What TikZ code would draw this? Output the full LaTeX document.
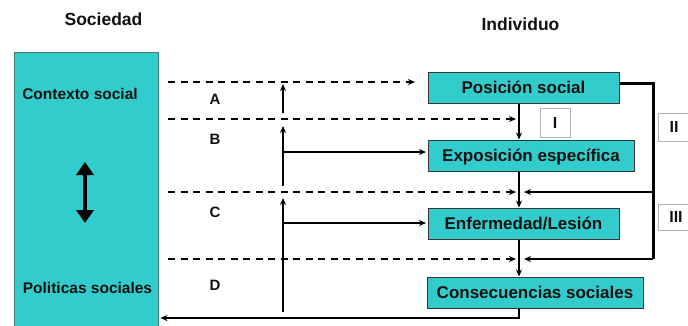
\documentclass[tikz,border=0pt]{standalone}
\usepackage{fontspec}
\setmainfont{Liberation Sans}
\usetikzlibrary{arrows.meta}
\definecolor{tealbox}{HTML}{33CCCC}
\definecolor{ink}{HTML}{111111}
\definecolor{socedge}{HTML}{3C7E7E}
\begin{document}
\begin{tikzpicture}[x=1pt,y=-1pt,
  box/.style={draw=ink!85, line width=1pt, fill=tealbox, inner sep=0pt,
    text height=12.2pt, text depth=0pt, minimum height=31pt,
    font=\fontsize{17}{20}\selectfont\bfseries, text=ink},
  lbl/.style={font=\fontsize{15}{18}\selectfont\bfseries, anchor=base, text=ink, inner sep=0pt},
  head/.style={font=\fontsize{17.5}{20}\selectfont\bfseries, anchor=base, text=ink, inner sep=0pt},
  side/.style={font=\fontsize{15.5}{18}\selectfont\bfseries, anchor=base, text=ink, inner sep=0pt},
  tag/.style={draw=gray!60, fill=white, line width=0.8pt, inner sep=0pt,
    text height=11.5pt, text depth=0pt, font=\fontsize{16}{18}\selectfont\bfseries, text=ink},
  dashline/.style={line width=2pt, dash pattern=on 7pt off 5.5pt, -{Stealth[length=7pt,width=6pt]}},
  arr/.style={line width=2pt, -{Stealth[length=7pt,width=6pt]}},
  loopline/.style={line width=3pt, line join=miter},
]
\useasboundingbox (0,0) rectangle (688,325);

% Society block
\node[draw=socedge, line width=0.9pt, fill=tealbox, minimum width=144pt, minimum height=290pt,
  anchor=north west, inner sep=0pt] (soc) at (14,52) {};
\node[head] (tsoc) at (103.5,25) {Sociedad};
\node[head] (tind) at (520.5,30) {Individuo};
\node[side] (ctx) at (80,99) {Contexto social};
\node[side] (pol) at (87.5,293) {Politicas sociales};

% double arrow
\coordinate (dbl1) at (85,162);
\coordinate (dbl2) at (85,223);
\draw[line width=4pt, {Triangle[length=13pt,width=17pt]}-{Triangle[length=13pt,width=17pt]}] (dbl1) -- (dbl2);

% Individual boxes
\node[box, minimum width=191pt] (pos) at (523.5,87.5) {Posición social};
\node[box, minimum width=206pt] (expo) at (531,155.5) {Exposición específica};
\node[box, minimum width=191pt] (enf) at (523.5,223.5) {Enfermedad/Lesión};
\node[box, minimum width=216pt] (cons) at (535,292.5) {Consecuencias sociales};

% tags
\node[tag, minimum width=30pt, minimum height=29pt] (t1) at (555,122.5) {I};
\node[tag, minimum width=32pt, minimum height=28pt] (t2) at (674,127) {II};
\node[tag, minimum width=36pt, minimum height=26pt] (t3) at (676,217) {III};

% labels
\node[lbl] (la) at (215,104) {A};
\node[lbl] (lb) at (215,144) {B};
\node[lbl] (lc) at (215,217) {C};
\node[lbl] (ld) at (215,290) {D};

% spine
\coordinate (sp) at (519,0);
\draw[arr] (pos.south -| sp) -- (expo.north -| sp);
\draw[arr] (expo.south -| sp) -- (enf.north -| sp);
\draw[arr] (enf.south -| sp) -- (cons.north -| sp);

% dashed lines
\coordinate (a1) at (168,82);
\coordinate (aE) at (415,82);
\coordinate (b1) at (168,119);
\coordinate (c1) at (168,192);
\coordinate (d1) at (168,259);
\draw[dashline] (a1) -- (aE);
\draw[dashline] (b1) -- ([xshift=-3pt]b1 -| sp);
\draw[dashline] (c1) -- ([xshift=-3pt]c1 -| sp);
\draw[dashline] (d1) -- ([xshift=-3pt]d1 -| sp);

% right loop
\coordinate (r1) at (653,192);
\coordinate (r2) at (653,259);
\draw[loopline] ([yshift=4pt]pos.east) -| (r2);
\draw[arr] (r1) -- ([xshift=5pt]r1 -| sp);
\draw[arr] (r2) -- ([xshift=5pt]r2 -| sp);

% upward arrows
\coordinate (u1s) at (283,113);
\coordinate (u1e) at (283,84);
\coordinate (u2s) at (283,186);
\coordinate (u2e) at (283,126);
\coordinate (br2) at (283,152);
\coordinate (u3s) at (283,312);
\coordinate (u3e) at (283,198);
\coordinate (br3) at (283,223);
\draw[arr] (u1s) -- (u1e);
\draw[arr] (u2s) -- (u2e);
\draw[arr] (u3s) -- (u3e);
\draw[arr, shorten >=1.5pt] (br2) -- (br2 -| expo.west);
\draw[arr, shorten >=1.5pt] (br3) -- (br3 -| enf.west);

% bottom feedback
\coordinate (bt) at (519,318);
\draw[arr, shorten >=1.5pt] (cons.south -| sp) -- (bt) -- (bt -| soc.east);
\end{tikzpicture}
\end{document}
